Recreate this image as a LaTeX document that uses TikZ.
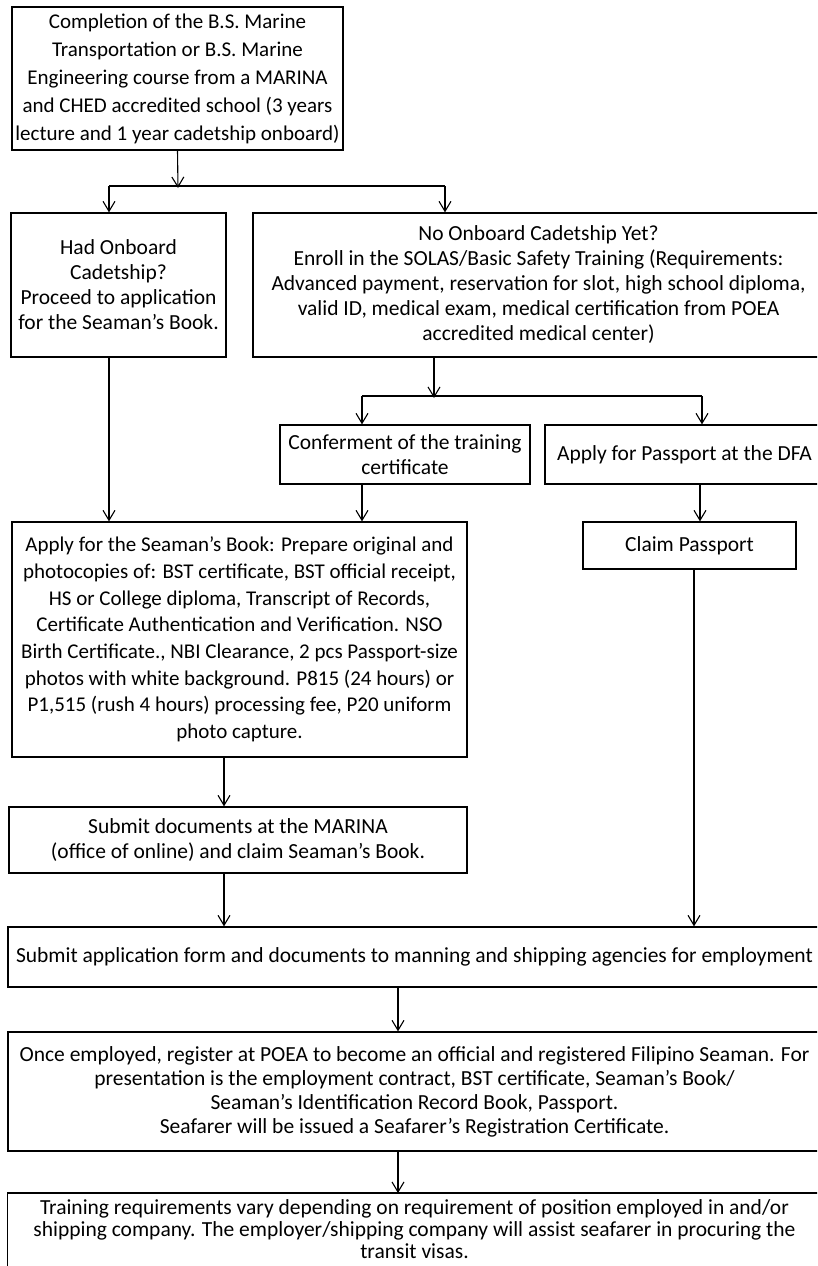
\documentclass[tikz,border=0pt]{standalone}
\usepackage{fontspec}
\setmainfont{Carlito}
\usetikzlibrary{arrows.meta}
\begin{document}
\begin{tikzpicture}[x=1pt,y=-1pt,
  box/.style={draw,line width=1.3pt,align=center,inner sep=0pt,font=\fontsize{21.5}{25}\selectfont},
  arr/.style={-{Straight Barb[length=10pt,width=12pt]},line width=1.1pt},
  ln/.style={line width=1.1pt}]
\useasboundingbox (0,0) rectangle (817,1266);
\clip (0,0) rectangle (817,1266);
\fill[white] (0,0) rectangle (817,1266);
\node[box,minimum width=331,minimum height=143,font=\fontsize{21}{28}\selectfont] (b1) at (177.5,78.5) {Completion of the B.S. Marine\\Transportation or B.S. Marine\\Engineering course from a MARINA\\and CHED accredited school (3 years\\lecture and 1 year cadetship onboard)};
\node[box,minimum width=215,minimum height=144] (had) at (118.5,285) {Had Onboard\\Cadetship?\\Proceed to application\\for the Seaman’s Book.};
\node[box,minimum width=571,minimum height=144] (no) at (538.5,285) {No Onboard Cadetship Yet?\\Enroll in the SOLAS/Basic Safety Training (Requirements:\\Advanced payment, reservation for slot, high school diploma,\\valid ID, medical exam, medical certification from POEA\\accredited medical center)};
\node[box,minimum width=250,minimum height=59] (conf) at (405,454.5) {Conferment of the training\\certificate};
\node[box,minimum width=279,minimum height=59] (pass) at (684.5,454.5) {Apply for Passport at the DFA};
\node[box,minimum width=455,minimum height=235,font=\fontsize{21}{26.7}\selectfont] (apply) at (239.5,639.5) {Apply for the Seaman’s Book: Prepare original and\\photocopies of: BST certificate, BST official receipt,\\HS or College diploma, Transcript of Records,\\Certificate Authentication and Verification. NSO\\Birth Certificate., NBI Clearance, 2 pcs Passport-size\\photos with white background. P815 (24 hours) or\\P1,515 (rush 4 hours) processing fee, P20 uniform\\photo capture.};
\node[box,minimum width=213,minimum height=47] (claim) at (689.5,545.5) {Claim Passport};
\node[box,minimum width=458,minimum height=66] (marina) at (238,840) {Submit documents at the MARINA\\(office of online) and claim Seaman’s Book.};
\node[box,minimum width=813,minimum height=60] (submit) at (414.5,957) {Submit application form and documents to manning and shipping agencies for employment};
\node[box,minimum width=813,minimum height=119,font=\fontsize{21.5}{24}\selectfont] (once) at (414.5,1091.5) {Once employed, register at POEA to become an official and registered Filipino Seaman. For\\presentation is the employment contract, BST certificate, Seaman’s Book/\\Seaman’s Identification Record Book, Passport.\\Seafarer will be issued a Seafarer’s Registration Certificate.};
\node[box,draw=none,anchor=north,minimum width=813,inner ysep=6pt,font=\fontsize{21.5}{22}\selectfont] (train) at (414.5,1193) {Training requirements vary depending on requirement of position employed in and/or\\shipping company. The employer/shipping company will assist seafarer in procuring the\\transit visas.};
\draw[line width=1.3pt] (train.north west) rectangle (821,1330);
% connectors
\coordinate (j1) at (178,186);
\coordinate (j1l) at (109,186);
\coordinate (j1r) at (445,186);
\draw[arr] (b1.south) -- ([yshift=-2pt]j1);
\draw[ln] (j1l) -- (j1r);
\draw[arr] (j1l) -- (j1l |- had.north);
\draw[arr] (j1r) -- (j1r |- no.north);
\coordinate (h1) at (109,400);
\draw[arr] (h1 |- had.south) -- (h1 |- apply.north);
\coordinate (j2) at (434,396);
\coordinate (j2l) at (362,396);
\coordinate (j2r) at (702,396);
\draw[arr] (j2 |- no.south) -- ([yshift=-2pt]j2);
\draw[ln] (j2l) -- (j2r);
\draw[arr] (j2l) -- (j2l |- conf.north);
\draw[arr] (j2r) -- (j2r |- pass.north);
\draw[arr] (j2l |- conf.south) -- (j2l |- apply.north);
\draw[arr] ([xshift=-2pt]j2r |- pass.south) -- ([xshift=-2pt]j2r |- claim.north);
\coordinate (c1) at (694,700);
\draw[arr] (c1 |- claim.south) -- (c1 |- submit.north);
\coordinate (m1) at (224,800);
\draw[arr] (m1 |- apply.south) -- (m1 |- marina.north);
\draw[arr] (m1 |- marina.south) -- (m1 |- submit.north);
\coordinate (s1) at (398,1000);
\draw[arr] (s1 |- submit.south) -- (s1 |- once.north);
\draw[arr] (s1 |- once.south) -- (s1 |- train.north);
\end{tikzpicture}
\end{document}
